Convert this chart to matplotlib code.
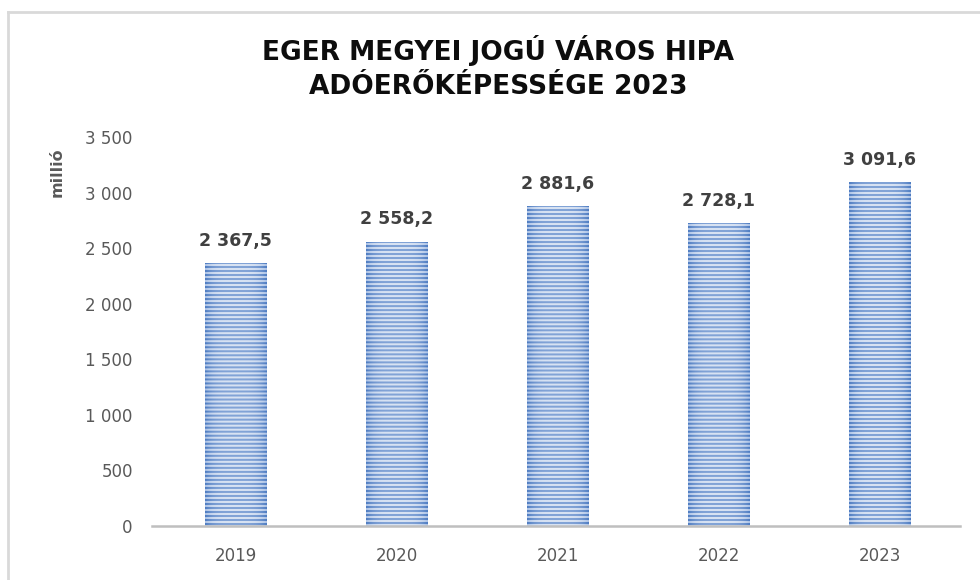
import matplotlib
matplotlib.use("Agg")
import matplotlib.pyplot as plt
import numpy as np
from matplotlib.colors import LinearSegmentedColormap
from matplotlib.lines import Line2D

years = ["2019", "2020", "2021", "2022", "2023"]
values = [2367.5, 2558.2, 2881.6, 2728.1, 3091.6]
yticks = [0, 500, 1000, 1500, 2000, 2500, 3000, 3500]
title = "EGER MEGYEI JOGÚ VÁROS HIPA\nADÓERŐKÉPESSÉGE 2023"
ylabel = "millió"

def fmt(v, dec=0):
    s = f"{v:,.{dec}f}"
    return s.replace(",", " ").replace(".", ",")

fig = plt.figure(figsize=(9.8, 5.8), dpi=100)
ax = fig.add_axes([155/980, (580-526)/580, (960-155)/980, (526-137)/580])

x = np.arange(len(years))
bars = ax.bar(x, values, width=0.385, color="none", edgecolor="none", zorder=2)
ax.set_xlim(-0.5, len(years) - 0.5)
ax.set_ylim(0, 3500)

# striped fill (horizontal stripes with horizontal shading) clipped to each bar
fig.canvas.draw()
cmap = LinearSegmentedColormap.from_list("s", ["#E2EAF6", "#9FB9E2", "#4F7DC2"])
for b in bars:
    bb = b.get_window_extent()
    h_px = int(round(bb.height))
    w_px = int(round(bb.width))
    rows = np.arange(h_px)
    stripe = np.where((rows % 4) < 2, 0.68, 0.08)
    xs = np.linspace(-1, 1, w_px)
    shade = 0.32 * xs**4
    img = np.clip(stripe[:, None] + shade[None, :], 0, 1)
    im = ax.imshow(img, cmap=cmap, vmin=0, vmax=1, aspect="auto",
                   interpolation="antialiased", origin="upper",
                   extent=[b.get_x(), b.get_x() + b.get_width(), 0, b.get_height()],
                   zorder=2)
    im.set_clip_path(b)

for xi, v in zip(x, values):
    ax.annotate(fmt(v, 1), (xi, v), xytext=(0, 16), textcoords="offset points",
                ha="center", va="center", fontsize=12.5, fontweight="bold",
                color="#404040")

ax.set_yticks(yticks)
ax.set_yticklabels([fmt(t) for t in yticks])
ax.set_xticks(x)
ax.set_xticklabels(years)
ax.tick_params(axis="y", length=0, pad=16, labelsize=12, labelcolor="#595959")
ax.tick_params(axis="x", length=0, pad=15, labelsize=12, labelcolor="#595959")
for s in ["top", "right", "left"]:
    ax.spines[s].set_visible(False)
ax.spines["bottom"].set_color("#BFBFBF")
ax.spines["bottom"].set_linewidth(1.8)
ax.spines["bottom"].set_bounds(-0.52, len(years) - 0.5)
ax.patch.set_alpha(0)

fig.text(498/980, 1 - 68/580, title, ha="center", va="center", fontsize=19,
         fontweight="bold", color="#0D0D0D", linespacing=1.4)
fig.text(57/980, 1 - 172/580, ylabel, rotation=90, ha="center", va="center",
         fontsize=11.5, fontweight="bold", color="#595959")

# chart border (left and top visible)
fig.add_artist(Line2D([8/980, 8/980], [0, 1 - 12/580], transform=fig.transFigure,
                      color="#D9D9D9", lw=2))
fig.add_artist(Line2D([8/980, 1], [1 - 12/580, 1 - 12/580], transform=fig.transFigure,
                      color="#D9D9D9", lw=2))

fig.savefig("out.png", dpi=100)
